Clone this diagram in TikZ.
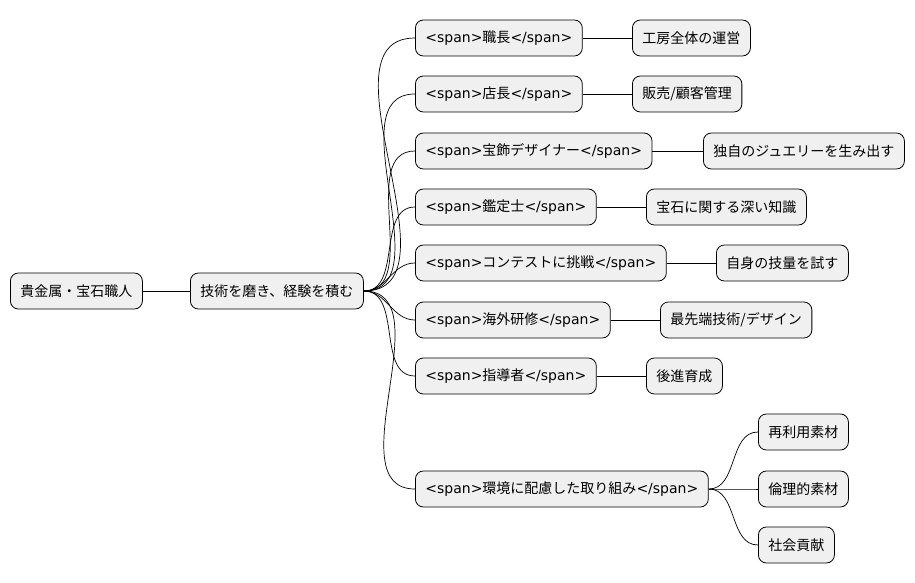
\documentclass[tikz,border=0pt]{standalone}
\usepackage{fontspec}
\setmainfont{Noto Sans CJK JP}
\newfontfamily\spanfont[Scale=1.0]{DejaVu Sans}
\newcommand\tagged[1]{{\spanfont<span>}#1{\spanfont</span>}}
\usetikzlibrary{positioning}

\begin{document}
\begin{tikzpicture}[x=1pt,y=-1pt,
  topic/.style={draw, rounded corners=8pt, fill=gray!12, line width=0.8pt,
    minimum height=36pt, inner xsep=10pt, anchor=west, font=\fontsize{14}{16}\selectfont},
  link/.style={line width=0.7pt}]
\useasboundingbox (0,0) rectangle (915,583);
\node[topic] (root) at (10,291) {貴金属・宝石職人};
\node[topic] (skill) at (190,291) {技術を磨き、経験を積む};
\draw[link] (root.east) -- (skill.west);
% first level
\foreach \name/\y/\txt in {chief/38/職長, shop/94/店長, design/151/宝飾デザイナー,
    appr/207/鑑定士, contest/263/コンテストに挑戦, abroad/320/海外研修,
    mentor/376/指導者, eco/489/環境に配慮した取り組み}
{
  \node[topic] (\name) at (415,\y) {\tagged{\txt}};
  \draw[link] (skill.east) to[out=0,in=180] (\name.west);
}
% second level
\foreach \parent/\name/\x/\y/\txt in {chief/c1/632/38/工房全体の運営, shop/s1/632/94/{販売/顧客管理},
    design/d1/703/151/独自のジュエリーを生み出す, appr/a1/646/207/宝石に関する深い知識,
    contest/k1/716/263/自身の技量を試す, abroad/b1/660/320/{最先端技術/デザイン},
    mentor/m1/646/376/後進育成}
{
  \node[topic] (\name) at (\x,\y) {\txt};
  \draw[link] (\parent.east) -- (\name.west);
}
\foreach \name/\y/\txt in {e1/432/再利用素材, e2/489/倫理的素材, e3/545/社会貢献}
{
  \node[topic] (\name) at (758,\y) {\txt};
  \draw[link] (eco.east) to[out=0,in=180] (\name.west);
}
\end{tikzpicture}
\end{document}
